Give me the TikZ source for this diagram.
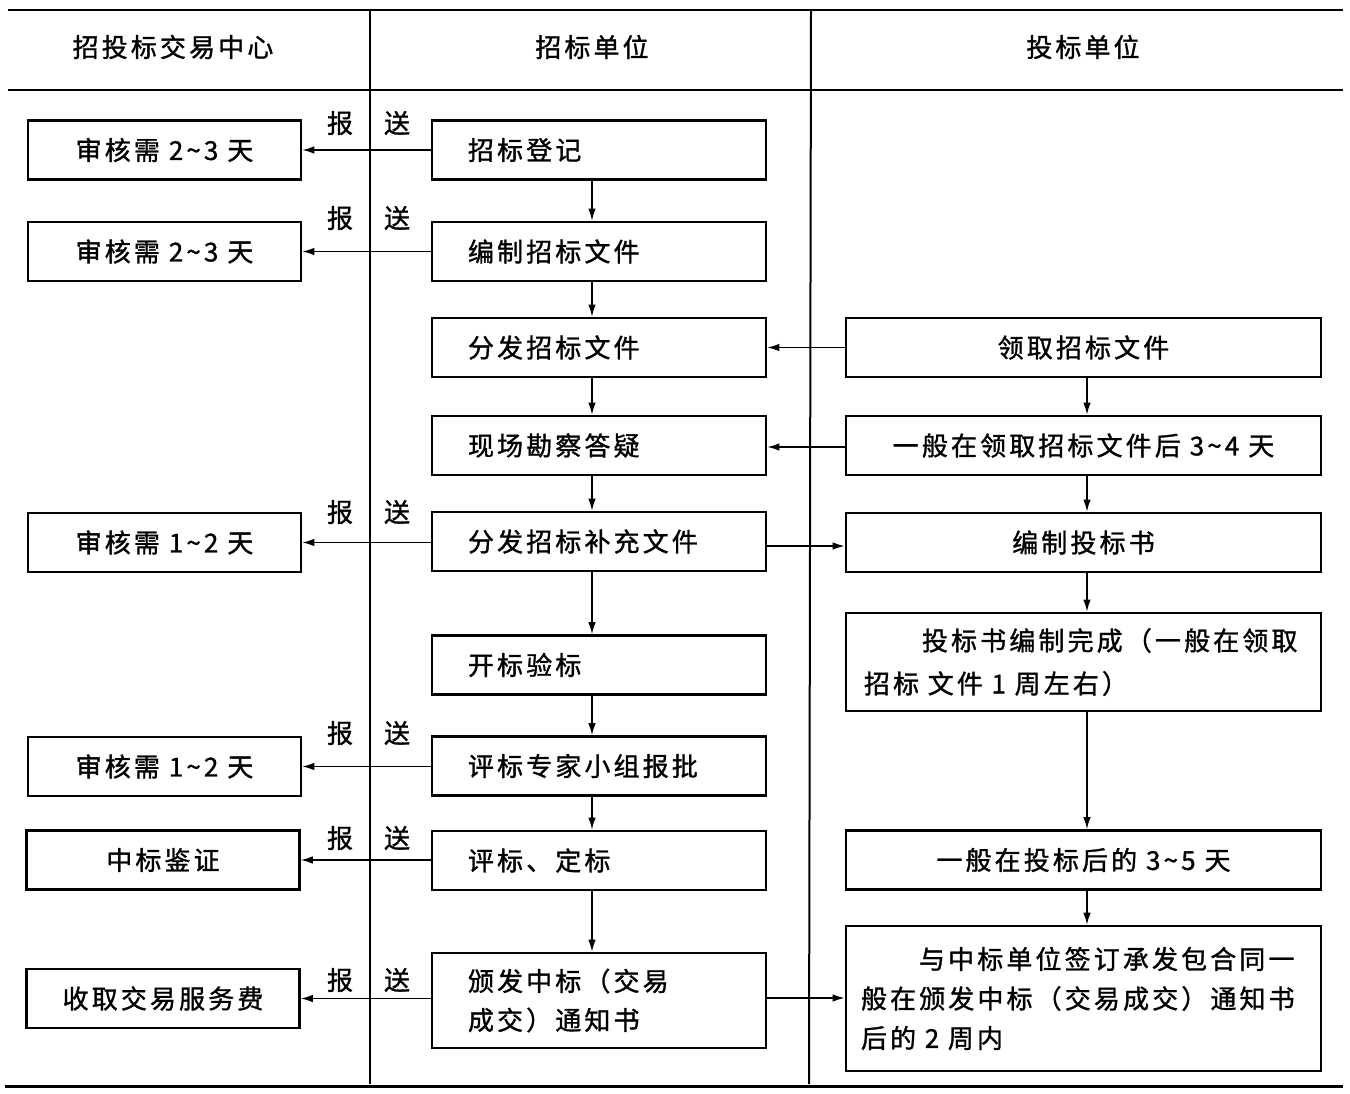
\documentclass[tikz,border=0pt]{standalone}
\usepackage{fontspec}
\setmainfont[LetterSpace=12,FakeBold=1.2]{Noto Sans CJK SC}
\usetikzlibrary{arrows.meta}
\begin{document}
\begin{tikzpicture}[x=1pt,y=-1pt,
  font=\fontsize{26}{38}\selectfont,
  box/.style={draw,line width=2.6pt,rectangle,inner sep=0pt},
  lbox/.style={box,minimum width=273,minimum height=59},
  mbox/.style={box,minimum width=334,minimum height=59,text width=262,align=left},
  rbox/.style={box,minimum width=475,minimum height=59,align=center},
  arr/.style={line width=1.5pt,-{Latex[length=12pt,width=7.5pt]}},
  rule/.style={line width=2pt},
  lbl/.style={inner sep=0pt}]
\useasboundingbox (0,0) rectangle (1350,1093);
% table rules
\draw[rule,line width=2.4pt] (8,10) -- (1343,10);
\draw[rule] (8,90) -- (1343,90);
\draw[rule,line width=3pt] (5,1086) -- (1343,1086);
\draw[rule] (370,10) -- (370,1084);
\draw[rule] (811,10) -- (809,1084);
% headers
\node[lbl] (h1) at (173,47) {招投标交易中心};
\node[lbl] (h2) at (592,47) {招标单位};
\node[lbl] (h3) at (1083,47) {投标单位};
% left column
\node[lbox] (l1) at (164.5,150) {审核需 2\textasciitilde3 天};
\node[lbox] (l2) at (164.5,251.5) {审核需 2\textasciitilde3 天};
\node[lbox] (l3) at (164.5,542.5) {审核需 1\textasciitilde2 天};
\node[lbox] (l4) at (164.5,766.5) {审核需 1\textasciitilde2 天};
\node[lbox] (l5) at (163,860) {中标鉴证};
\node[lbox] (l6) at (163,998.5) {收取交易服务费};
% middle column
\node[mbox] (m1) at (599,150) {招标登记};
\node[mbox] (m2) at (599,251.5) {编制招标文件};
\node[mbox] (m3) at (599,347.5) {分发招标文件};
\node[mbox] (m4) at (599,445.5) {现场勘察答疑};
\node[mbox] (m5) at (599,541.5) {分发招标补充文件};
\node[mbox] (m6) at (599,665) {开标验标};
\node[mbox] (m7) at (599,766) {评标专家小组报批};
\node[mbox] (m8) at (599,860.5) {评标、定标};
\node[mbox,minimum height=95,font=\fontsize{26}{39}\selectfont] (m9) at (599,1000.5) {颁发中标（交易\\成交）通知书};
% right column
\node[rbox] (r1) at (1083.5,347.5) {领取招标文件};
\node[rbox] (r2) at (1083.5,445.5) {一般在领取招标文件后 3\textasciitilde4 天};
\node[rbox] (r3) at (1083.5,542.5) {编制投标书};
\node[rbox,minimum height=98,text width=439,align=left,font=\fontsize{26}{43}\selectfont] (r4) at (1083.5,662) {\hspace*{58pt}投标书编制完成（一般在领取\\招标 文件 1 周左右）};
\node[rbox] (r5) at (1083.5,860) {一般在投标后的 3\textasciitilde5 天};
\node[rbox,minimum height=145,text width=445,align=left,font=\fontsize{26}{39.5}\selectfont] (r6) at (1083.5,998.5) {\hspace*{58pt}与中标单位签订承发包合同一\\般在颁发中标（交易成交）通知书\\后的 2 周内};
% middle -> left (报送)
\foreach \m/\l/\ly in {m1/l1/123, m2/l2/218, m5/l3/512, m7/l4/733, m8/l5/838, m9/l6/980}{
  \draw[arr] (\m.west |- \l.east) -- (\l.east);
  \node[lbl] (b\m) at (340,\ly) {报};
  \node[lbl] (s\m) at (397,\ly) {送};
}
% middle vertical
\foreach \a/\b in {m1/m2, m2/m3, m3/m4, m4/m5, m5/m6, m6/m7, m7/m8, m8/m9}{
  \draw[arr] ([xshift=-7pt]\a.south) -- ([xshift=-7pt]\b.north);
}
% right vertical
\foreach \a/\b in {r1/r2, r2/r3, r3/r4, r4/r5, r5/r6}{
  \draw[arr] ([xshift=3.5pt]\a.south) -- ([xshift=3.5pt]\b.north);
}
% horizontal cross arrows
\draw[arr] (r1.west) -- (m3.east);
\draw[arr] (r2.west |- 0,447) -- (m4.east |- 0,447);
\draw[arr] (m5.east |- 0,546) -- (r3.west |- 0,546);
\draw[arr] (m9.east |- 0,998) -- (r6.west |- 0,998);
\end{tikzpicture}
\end{document}
